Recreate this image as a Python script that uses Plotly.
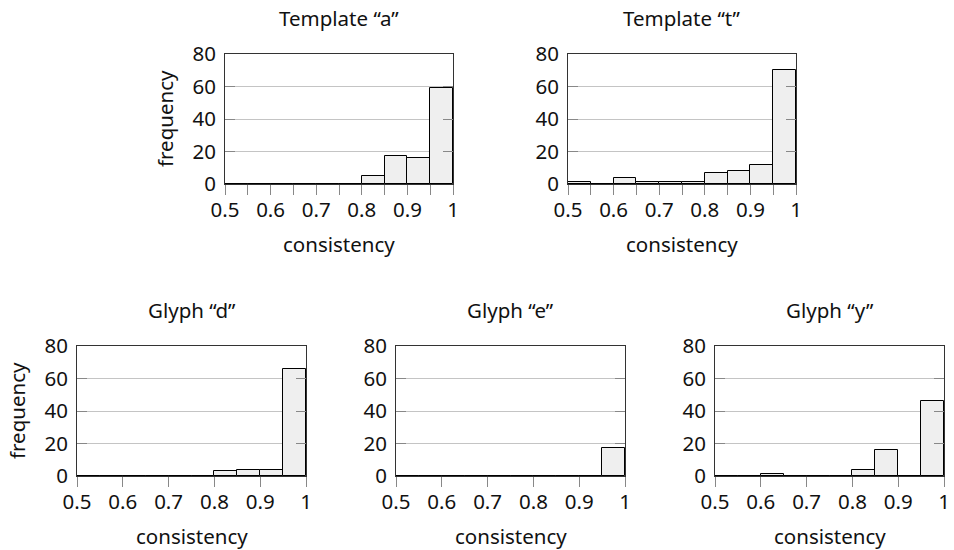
import plotly.graph_objects as go

# ---- data ----
bin_lefts = [0.50, 0.55, 0.60, 0.65, 0.70, 0.75, 0.80, 0.85, 0.90, 0.95]
bin_width = 0.05
template_a = [0, 0, 0, 0, 0, 0, 5, 17, 16, 59]
template_t = [1, 0, 4, 1, 1, 1, 7, 8, 12, 70]
glyph_d = [0, 0, 0, 0, 0, 0, 3, 4, 4, 66]
glyph_e = [0, 0, 0, 0, 0, 0, 0, 0, 0, 17]
glyph_y = [0, 0, 1, 0, 0, 0, 4, 16, 0, 46]
panel_titles = ["Template \u201ca\u201d", "Template \u201ct\u201d",
                "Glyph \u201cd\u201d", "Glyph \u201ce\u201d", "Glyph \u201cy\u201d"]
series = [template_a, template_t, glyph_d, glyph_e, glyph_y]
x_label = "consistency"
y_label = "frequency"
y_ticks = [0, 20, 40, 60, 80]
x_ticks = [0.5, 0.6, 0.7, 0.8, 0.9, 1.0]
x_tick_text = ["0.5", "0.6", "0.7", "0.8", "0.9", "1"]

W, H = 954, 550
OFF = 0  # body margin removed by post_script
# pixel boxes in the window (left, right, top, bottom)
boxes = [
    (225, 453, 54, 184),
    (568, 796, 54, 184),
    (77, 306, 346, 476),
    (396, 625, 346, 476),
    (715, 944, 346, 476),
]
minor_ticks = [True, True, False, False, False]

FONT = "Noto Sans"
FS = 20.5
TXT = "#111111"


def px(xp):
    return (xp - OFF) / W


def py(yp):
    return 1 - (yp - OFF) / H


fig = go.Figure()
centers = [b + bin_width / 2 for b in bin_lefts]
annotations = []
for i, (vals, box) in enumerate(zip(series, boxes)):
    n = i + 1
    xa = "x" if n == 1 else f"x{n}"
    ya = "y" if n == 1 else f"y{n}"
    fig.add_trace(go.Bar(
        x=centers, y=vals, width=[bin_width] * len(vals),
        xaxis=xa, yaxis=ya,
        marker=dict(color="#efefef", line=dict(color="#000000", width=1)),
        showlegend=False, hoverinfo="x+y",
    ))
    l, r, t, b = box
    xd = [px(l), px(r)]
    yd = [py(b), py(t)]
    xkey = "xaxis" if n == 1 else f"xaxis{n}"
    ykey = "yaxis" if n == 1 else f"yaxis{n}"
    xaxis = dict(
        domain=xd, anchor=ya, range=[0.5, 1.0], automargin=False,
        tickmode="array", tickvals=x_ticks, ticktext=x_tick_text,
        ticks="outside", ticklen=10, tickcolor="#888888", tickwidth=1,
        ticklabelstandoff=-3,
        showline=True, linecolor="#333333", linewidth=1, mirror=True,
        showgrid=False, zeroline=False,
        tickfont=dict(family=FONT, size=FS, color=TXT),
        fixedrange=True,
    )
    if minor_ticks[i]:
        xaxis["minor"] = dict(dtick=0.05, tick0=0.5, ticks="outside",
                              ticklen=10, tickcolor="#888888", tickwidth=1,
                              showgrid=False)
    fig.layout[xkey] = xaxis
    fig.layout[ykey] = dict(
        domain=yd, anchor=xa, range=[0, 80], automargin=False,
        tickmode="array", tickvals=y_ticks,
        ticks="inside", ticklen=10, tickcolor="#888888", tickwidth=1,
        ticklabelstandoff=4,
        showline=True, linecolor="#333333", linewidth=1, mirror="ticks",
        showgrid=True, gridcolor="#c4c4c4", gridwidth=1, zeroline=False,
        tickfont=dict(family=FONT, size=FS, color=TXT),
        fixedrange=True,
    )
    cx = px((l + r) / 2)
    annotations.append(dict(text=panel_titles[i], x=cx, y=py(t - 36),
                            xref="paper", yref="paper", showarrow=False,
                            xanchor="center", yanchor="middle",
                            font=dict(family=FONT, size=FS, color=TXT)))
    annotations.append(dict(text=x_label, x=cx, y=py(b + 60),
                            xref="paper", yref="paper", showarrow=False,
                            xanchor="center", yanchor="middle",
                            font=dict(family=FONT, size=FS, color=TXT)))

# y labels on left panels
for (l, r, t, b) in (boxes[0], boxes[2]):
    annotations.append(dict(text=y_label, x=px(l - 60), y=py((t + b) / 2),
                            xref="paper", yref="paper", showarrow=False,
                            textangle=-90, xanchor="center", yanchor="middle",
                            font=dict(family=FONT, size=FS, color=TXT)))

fig.update_layout(
    template="none",
    width=W, height=H,
    margin=dict(l=0, r=0, t=0, b=0, pad=0),
    paper_bgcolor="white", plot_bgcolor="white",
    bargap=0, annotations=annotations,
    font=dict(family=FONT, size=FS, color=TXT),
)
fig.write_html("out.html",
               config={"displayModeBar": False},
               post_script="document.body.style.margin='0';"
                           "document.body.style.overflow='hidden';")
